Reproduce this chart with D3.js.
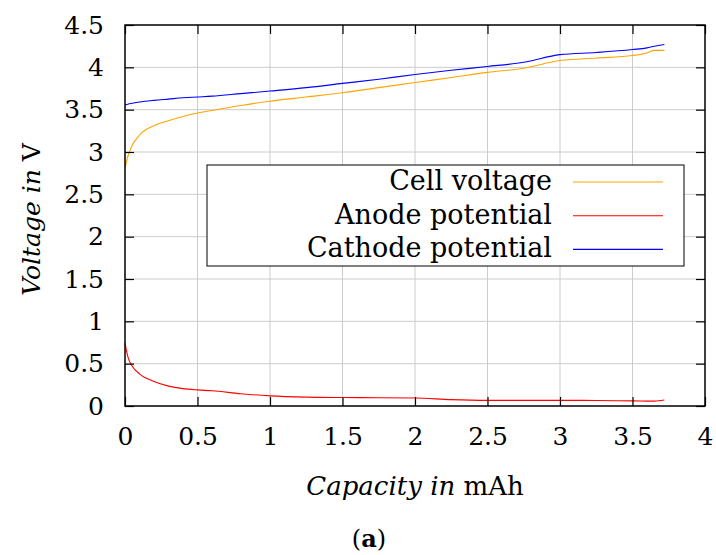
<!DOCTYPE html>
<html>
<head>
<meta charset="utf-8">
<script src="https://cdn.jsdelivr.net/npm/d3@7"></script>
<style>
  body { margin: 0; background: #fff; }
  svg { display: block; font-family: 'DejaVu Serif', serif; }
</style>
</head>
<body>
<svg id="chart" width="716" height="555"></svg>
<script>
// Data
const capacity = [0, 0.02, 0.05, 0.1, 0.2, 0.3, 0.4, 0.5, 0.6, 0.8, 1.0, 1.25, 1.5, 1.75,
  2.0, 2.25, 2.5, 2.75, 3.0, 3.25, 3.5, 3.6, 3.65, 3.72];
const cellVoltage = [2.81, 2.95, 3.08, 3.2, 3.31, 3.37, 3.42, 3.46, 3.49, 3.55, 3.6, 3.65, 3.7, 3.76,
  3.82, 3.88, 3.94, 3.99, 4.08, 4.11, 4.14, 4.17, 4.2, 4.2];
const anodePotential = [0.74, 0.58, 0.47, 0.38, 0.29, 0.235, 0.205, 0.19, 0.18, 0.145, 0.12, 0.105, 0.1, 0.098,
  0.095, 0.075, 0.067, 0.067, 0.067, 0.065, 0.06, 0.058, 0.057, 0.07];
const cathodePotential = [3.555, 3.565, 3.575, 3.59, 3.61, 3.625, 3.64, 3.65, 3.66, 3.69, 3.72, 3.76, 3.81, 3.86,
  3.915, 3.965, 4.01, 4.06, 4.15, 4.175, 4.21, 4.23, 4.25, 4.27];
const seriesNames = ['Cell voltage', 'Anode potential', 'Cathode potential'];
const seriesColors = ['#ffa500', '#ff0000', '#0000ff'];
const xTicks = [0, 0.5, 1, 1.5, 2, 2.5, 3, 3.5, 4];
const yTicks = [0, 0.5, 1, 1.5, 2, 2.5, 3, 3.5, 4, 4.5];

const margin = { top: 25, right: 11, bottom: 149, left: 125 };
const width = 716 - margin.left - margin.right;
const height = 555 - margin.top - margin.bottom;

const svg = d3.select('#chart');
const g = svg.append('g').attr('transform', `translate(${margin.left},${margin.top})`);

const x = d3.scaleLinear().domain([0, 4]).range([0, width]);
const y = d3.scaleLinear().domain([0, 4.5]).range([height, 0]);

// Grid
g.append('g').selectAll('line').data(xTicks.slice(1, -1)).enter().append('line')
  .attr('x1', d => x(d)).attr('x2', d => x(d)).attr('y1', 0).attr('y2', height)
  .attr('stroke', '#cccccc').attr('stroke-width', 1);
g.append('g').selectAll('line').data(yTicks.slice(1, -1)).enter().append('line')
  .attr('y1', d => y(d)).attr('y2', d => y(d)).attr('x1', 0).attr('x2', width)
  .attr('stroke', '#cccccc').attr('stroke-width', 1);

// Curves
const series = [cellVoltage, anodePotential, cathodePotential];
const line = d3.line()
  .x(d => x(d[0]))
  .y(d => y(d[1]))
  .curve(d3.curveMonotoneX);
series.forEach((values, i) => {
  g.append('path')
    .datum(capacity.map((c, j) => [c, values[j]]))
    .attr('fill', 'none')
    .attr('stroke', seriesColors[i])
    .attr('stroke-width', 1.1)
    .attr('d', line);
});

// Axes with inward ticks on all four sides
const tickLen = 9;
const styleAxis = (sel) => {
  sel.select('.domain').remove();
  sel.selectAll('.tick line').attr('stroke', '#000').attr('stroke-width', 1.2);
};
const styleLabels = a => a.selectAll('.tick text')
  .attr('font-size', 25).attr('font-family', 'DejaVu Serif').attr('fill', '#000');
g.append('g').attr('transform', `translate(0,${height})`)
  .call(d3.axisBottom(x).tickValues(xTicks).tickSizeInner(-tickLen).tickSizeOuter(0).tickPadding(21).tickFormat(d3.format('')))
  .call(styleAxis)
  .call(styleLabels);
g.append('g')
  .call(d3.axisLeft(y).tickValues(yTicks).tickSizeInner(-tickLen).tickSizeOuter(0).tickPadding(21).tickFormat(d3.format('')))
  .call(styleAxis)
  .call(styleLabels);
g.append('g')
  .call(d3.axisTop(x).tickValues(xTicks).tickSizeInner(-tickLen).tickSizeOuter(0).tickFormat(''))
  .call(styleAxis);
g.append('g').attr('transform', `translate(${width},0)`)
  .call(d3.axisRight(y).tickValues(yTicks).tickSizeInner(-tickLen).tickSizeOuter(0).tickFormat(''))
  .call(styleAxis);

// Frame
g.append('rect')
  .attr('width', width).attr('height', height)
  .attr('fill', 'none').attr('stroke', '#000').attr('stroke-width', 1.5);

// Legend
const legend = g.append('g').attr('transform', 'translate(82,140)');
legend.append('rect')
  .attr('width', 477).attr('height', 101)
  .attr('fill', '#fff').attr('stroke', '#000').attr('stroke-width', 1);
seriesNames.forEach((name, i) => {
  const row = legend.append('g').attr('transform', `translate(0,${17 + i * 33.7})`);
  row.append('text')
    .attr('x', 345).attr('y', 8)
    .attr('text-anchor', 'end')
    .attr('font-size', 27)
    .text(name);
  row.append('line')
    .attr('x1', 366).attr('x2', 456)
    .attr('stroke', seriesColors[i]).attr('stroke-width', 1.1);
});

// Axis titles
const xTitle = svg.append('text')
  .attr('x', margin.left + width / 2).attr('y', 495)
  .attr('text-anchor', 'middle').attr('font-size', 26);
xTitle.append('tspan').attr('font-style', 'italic').text('Capacity in ');
xTitle.append('tspan').text('mAh');

const yTitle = svg.append('text')
  .attr('transform', `translate(40,${margin.top + height / 2 + 4}) rotate(-90)`)
  .attr('text-anchor', 'middle').attr('font-size', 25);
yTitle.append('tspan').attr('font-style', 'italic').text('Voltage in ');
yTitle.append('tspan').text('V');

// Sub-figure label
const caption = svg.append('text')
  .attr('x', 369).attr('y', 547)
  .attr('text-anchor', 'middle').attr('font-size', 24);
caption.append('tspan').text('(');
caption.append('tspan').attr('font-weight', 'bold').text('a');
caption.append('tspan').text(')');
</script>
</body>
</html>
